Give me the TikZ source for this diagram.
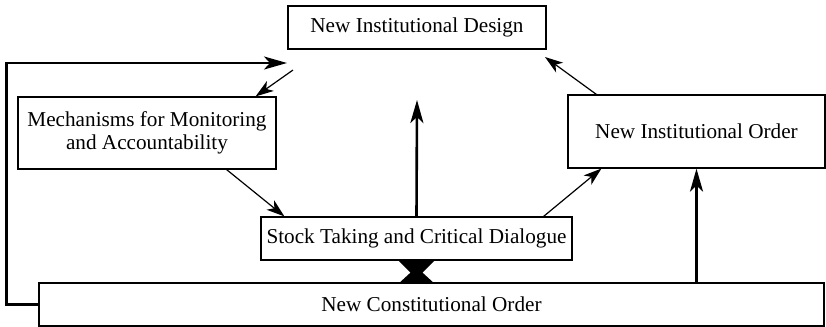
\documentclass[tikz,border=0pt]{standalone}
\usepackage{fontspec}
\setmainfont{Liberation Serif}
\usepackage{tikz}
\usetikzlibrary{arrows.meta,calc}
\tikzset{
  box/.style = {draw, line width=0.6pt, inner sep=0pt, align=center,
    font=\fontsize{10.6}{11.8}\selectfont},
}

\begin{document}
\begin{tikzpicture}[
    x=1pt, y=-1pt, scale=0.5,
    link/.style={-{Stealth[length=9pt, width=6pt, inset=2.5pt]}, line width=0.6pt},
    flow/.style={-{Stealth[length=11.5pt, width=6.5pt, inset=3pt]}, line width=1.3pt},
    ]
    \useasboundingbox (0,0) rectangle (826,327);

    \node[box, minimum width=129pt, minimum height=21.5pt] (design) at (417,27.5) {New Institutional Design};
    \node[box, minimum width=129pt, minimum height=36pt] (mechanisms) at (147,133) {Mechanisms for Monitoring\\and Accountability};
    \node[box, minimum width=128.5pt, minimum height=36.5pt] (instorder) at (696.5,131.5) {New Institutional Order};
    \node[box, minimum width=155.5pt, minimum height=21.5pt] (stocktaking) at (416.5,238.5) {Stock Taking and Critical Dialogue};
    \node[box, minimum width=392.5pt, minimum height=21.5pt] (constorder) at (431.5,304.5) {New Constitutional Order};

    % free ends
    \coordinate (loopend) at (287,63);
    \coordinate (loopback) at (293,70);
    \coordinate (designin) at (545,57);
    \coordinate (dialogueup) at (417,100);

    % thin links round the cycle
    \draw[link] ($(mechanisms.south east)+(-50,0)$) -- ($(stocktaking.north west)+(24,0)$);
    \draw[link] ($(stocktaking.north east)+(-29,0)$) -- ($(instorder.south west)+(34,0)$);
    \draw[link] ($(instorder.north west)+(29,0)$) -- (designin);
    \draw[link] (loopback) -- ($(mechanisms.north east)+(-21,0)$);

    % thick arrows
    \draw[flow] (stocktaking.north) -- (dialogueup);
    \draw[flow] (instorder.south |- constorder.north) -- (instorder.south);
    \draw[flow] (constorder.west) -- ++(-32,0) |- (loopend);

    % bow tie between dialogue and constitution
    \fill (stocktaking.south) ++(-18,0) -- ++(36,0) -- ++(-12,12) -- ++(12,11)
      -- ++(-36,0) -- ++(12,-11) -- cycle;
\end{tikzpicture}
\end{document}
